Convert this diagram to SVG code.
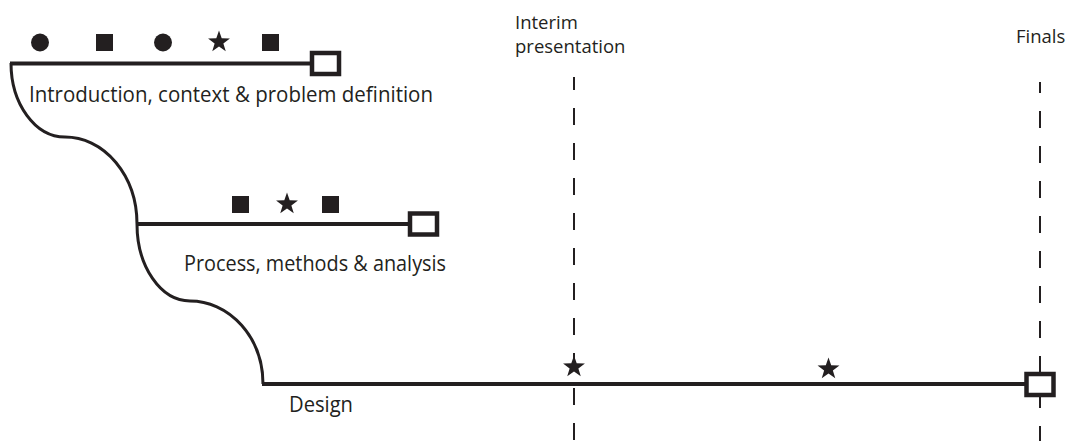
<svg xmlns="http://www.w3.org/2000/svg" width="1069" height="441" viewBox="0 0 1069 441">
  <style>
    .bg { fill: #ffffff; }
    .track { fill: none; stroke: #231f20; stroke-width: 4; }
    .curve { fill: none; stroke: #231f20; stroke-width: 3; }
    .end { fill: #ffffff; stroke: #231f20; stroke-width: 4.5; }
    .mark { fill: #231f20; }
    .milestone { fill: none; stroke: #231f20; stroke-width: 2; stroke-dasharray: 17 18; }
    .label { font-family: "Open Sans", "Noto Sans", "Liberation Sans", sans-serif; font-size: 21px; fill: #231f20; }
    .top { font-family: "Open Sans", "Noto Sans", "Liberation Sans", sans-serif; font-size: 18.5px; fill: #231f20; }
  </style>
  <defs>
    <path id="star" d="M0,-11.5 L2.7,-3.72 L10.94,-3.55 L4.37,1.42 L6.76,9.3 L0,4.6 L-6.76,9.3 L-4.37,1.42 L-10.94,-3.55 L-2.7,-3.72 Z"/>
  </defs>
  <rect class="bg" x="0" y="0" width="1069" height="441"/>

  <g id="milestones">
    <g id="interim">
      <line class="milestone" x1="574" y1="77" x2="574" y2="441" stroke-dashoffset="4"/>
      <text class="top" x="515" y="29">Interim</text>
      <text class="top" x="515" y="53">presentation</text>
    </g>
    <g id="finals">
      <line class="milestone" x1="1040" y1="82" x2="1040" y2="441" stroke-dashoffset="6"/>
      <text class="top" x="1016" y="43">Finals</text>
    </g>
  </g>

  <g id="connectors">
    <path class="curve" d="M11,63 A54,74 0 0 0 65,137 A72,87 0 0 1 137,224"/>
    <path class="curve" d="M137,224 A53,77 0 0 0 190,301 A73,83 0 0 1 263,384"/>
  </g>

  <g id="phase-intro">
    <line class="track" x1="10" y1="63.5" x2="312" y2="63.5"/>
    <rect class="end" x="312" y="53" width="27" height="21"/>
    <circle class="mark" cx="40" cy="42.5" r="9"/>
    <rect class="mark" x="96" y="34" width="17" height="17"/>
    <circle class="mark" cx="163" cy="42.5" r="9"/>
    <use href="#star" class="mark" x="219" y="42"/>
    <rect class="mark" x="262" y="34" width="17" height="17"/>
    <text class="label" x="29" y="102" textLength="404" lengthAdjust="spacingAndGlyphs">Introduction, context &amp; problem definition</text>
  </g>

  <g id="phase-process">
    <line class="track" x1="137" y1="224" x2="410" y2="224"/>
    <rect class="end" x="410" y="213.5" width="27" height="21"/>
    <rect class="mark" x="232" y="196" width="17" height="17"/>
    <use href="#star" class="mark" x="287" y="204"/>
    <rect class="mark" x="322" y="196" width="17" height="17"/>
    <text class="label" x="184" y="271" textLength="262" lengthAdjust="spacingAndGlyphs">Process, methods &amp; analysis</text>
  </g>

  <g id="phase-design">
    <line class="track" x1="262" y1="384" x2="1026" y2="384"/>
    <rect class="end" x="1026.5" y="374" width="27" height="21"/>
    <use href="#star" class="mark" x="574" y="367"/>
    <use href="#star" class="mark" x="828.5" y="369"/>
    <text class="label" x="289" y="412" textLength="64" lengthAdjust="spacingAndGlyphs">Design</text>
  </g>
</svg>
